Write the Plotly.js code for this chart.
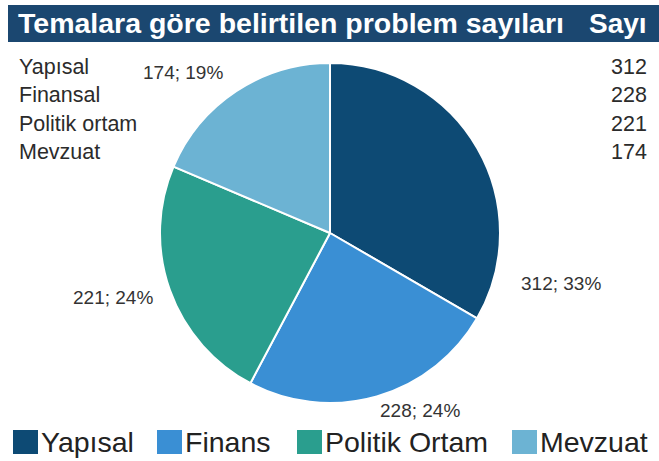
<!DOCTYPE html>
<html>
<head>
<meta charset="utf-8">
<script src="https://cdn.plot.ly/plotly-3.0.1.min.js"></script>
<style>html,body{margin:0;padding:0;background:#fff;}#chart{width:659px;height:461px;}</style>
</head>
<body>
<div id="chart"></div>
<script>
// ---- data ----
const titleText = "Temalara göre belirtilen problem sayıları";
const countHeader = "Sayı";
const tableLabels = ["Yapısal", "Finansal", "Politik ortam", "Mevzuat"];
const legendLabels = ["Yapısal", "Finans", "Politik Ortam", "Mevzuat"];
const values = [312, 228, 221, 174];
const colors = ["#0d4a74", "#3a8fd4", "#2a9e8e", "#6cb3d3"];

// ---- layout helpers ----
const W = 659, H = 461;
const px = x => x / W;
const py = y => 1 - y / H;
const FONT = "Liberation Sans, Arial, sans-serif";

const total = values.reduce((a, b) => a + b, 0);
const labelPos = [[561, 283], [420, 410], [113, 297], [183, 72]];
const legendSquareX = [13, 157, 297, 512];
const tableRowY = [67, 95, 124, 152];

const cx = 330, cy = 233, r = 170;

const trace = {
  type: "pie",
  values: values,
  labels: legendLabels,
  sort: false,
  direction: "clockwise",
  rotation: 0,
  textinfo: "none",
  hoverinfo: "label+value+percent",
  marker: { colors: colors, line: { color: "#ffffff", width: 2 } },
  domain: { x: [px(cx - r), px(cx + r)], y: [py(cy + r), py(cy - r)] },
  showlegend: false
};

const shapes = [
  { type: "rect", xref: "paper", yref: "paper", x0: px(8), x1: 1, y0: py(42), y1: py(5),
    fillcolor: "#1b4770", line: { width: 0 }, layer: "below" }
];
const annotations = [
  { text: "<b>" + titleText + "</b>", x: px(16), y: py(23.5), xref: "paper", yref: "paper",
    xanchor: "left", yanchor: "middle", showarrow: false,
    font: { family: FONT, size: 28.5, color: "#ffffff" } },
  { text: "<b>" + countHeader + "</b>", x: px(587), y: py(23.5), xref: "paper", yref: "paper",
    xanchor: "left", yanchor: "middle", showarrow: false,
    font: { family: FONT, size: 28, color: "#ffffff" } }
];

tableLabels.forEach((lab, i) => {
  annotations.push({ text: lab, x: px(17), y: py(tableRowY[i]), xref: "paper", yref: "paper",
    xanchor: "left", yanchor: "middle", showarrow: false,
    font: { family: FONT, size: 21.5, color: "#2b2b2b" } });
  annotations.push({ text: String(values[i]), x: px(649), y: py(tableRowY[i]), xref: "paper", yref: "paper",
    xanchor: "right", yanchor: "middle", showarrow: false,
    font: { family: FONT, size: 21.5, color: "#2b2b2b" } });
  annotations.push({ text: values[i] + "; " + Math.round(100 * values[i] / total) + "%",
    x: px(labelPos[i][0]), y: py(labelPos[i][1]), xref: "paper", yref: "paper",
    xanchor: "center", yanchor: "middle", showarrow: false,
    font: { family: FONT, size: 19, color: "#333333" } });
});

legendLabels.forEach((lab, i) => {
  const x0 = legendSquareX[i];
  shapes.push({ type: "rect", xref: "paper", yref: "paper",
    x0: px(x0), x1: px(x0 + 25), y0: py(454), y1: py(430),
    fillcolor: colors[i], line: { width: 0 } });
  annotations.push({ text: lab, x: px(x0 + 26), y: py(442), xref: "paper", yref: "paper",
    xanchor: "left", yanchor: "middle", showarrow: false,
    font: { family: FONT, size: 28.5, color: "#222222" } });
});

const layout = {
  width: W, height: H,
  margin: { l: 0, r: 0, t: 0, b: 0 },
  paper_bgcolor: "#ffffff",
  plot_bgcolor: "#ffffff",
  showlegend: false,
  shapes: shapes,
  annotations: annotations
};

Plotly.newPlot("chart", [trace], layout, { displayModeBar: false, staticPlot: true });
</script>
</body>
</html>
